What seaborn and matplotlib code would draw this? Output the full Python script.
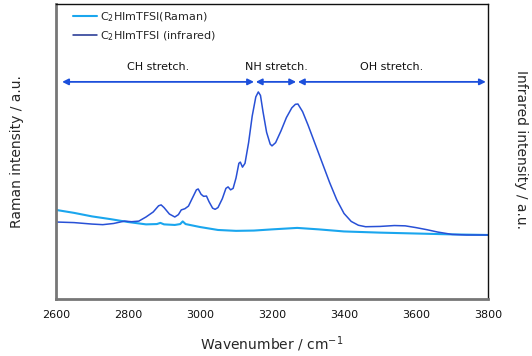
import matplotlib
matplotlib.use("Agg")
import matplotlib.pyplot as plt
import seaborn as sns
import pandas as pd

# Infrared spectrum (wavenumber / cm-1, intensity / a.u.)
ir_wavenumber = [2600, 2650, 2700, 2730, 2760, 2790, 2810, 2830, 2850, 2870, 2885, 2892,
                 2900, 2915, 2930, 2940, 2948, 2958, 2968, 2980, 2990, 2995, 3003, 3010,
                 3018, 3025, 3035, 3042, 3050, 3062, 3072, 3078, 3085, 3092, 3100, 3108,
                 3112, 3118, 3125, 3135, 3145, 3155, 3162, 3168, 3175, 3185, 3195, 3200,
                 3210, 3225, 3240, 3255, 3265, 3272, 3285, 3300, 3320, 3340, 3360, 3380,
                 3400, 3420, 3440, 3460, 3500, 3540, 3570, 3600, 3630, 3660, 3700, 3740,
                 3800]
ir_intensity = [26.1, 25.9, 25.4, 25.2, 25.6, 26.4, 26.2, 26.4, 27.8, 29.5, 31.6, 31.9,
                31.0, 28.8, 27.8, 28.6, 30.2, 30.6, 31.5, 34.5, 37.0, 37.3, 35.5, 34.8,
                34.9, 33.0, 30.8, 30.4, 31.0, 34.0, 37.5, 38.0, 37.0, 37.5, 41.0, 46.0,
                46.4, 44.7, 46.0, 53.0, 62.0, 68.5, 70.2, 69.0, 63.5, 56.5, 52.5, 51.9,
                53.0, 57.0, 61.5, 64.8, 66.0, 66.1, 63.5, 59.0, 52.5, 46.0, 39.5, 33.6,
                29.0, 26.3, 25.0, 24.5, 24.6, 24.9, 24.8, 24.2, 23.5, 22.7, 21.9, 21.7,
                21.7]

# Raman spectrum
raman_wavenumber = [2600, 2650, 2700, 2750, 2800, 2850, 2880, 2890, 2900, 2930, 2945, 2952,
                    2960, 3000, 3050, 3100, 3150, 3200, 3270, 3330, 3400, 3500, 3600, 3700,
                    3800]
raman_intensity = [30.2, 29.2, 28.0, 27.1, 26.1, 25.3, 25.4, 25.8, 25.3, 25.1, 25.4, 26.3,
                   25.4, 24.4, 23.4, 23.1, 23.2, 23.6, 24.1, 23.6, 22.9, 22.5, 22.2, 21.9,
                   21.7]

# Band assignments: (label, start, end)
band_labels = ["CH stretch.", "NH stretch.", "OH stretch."]
band_start = [2617, 3155, 3272]
band_end = [3150, 3267, 3794]

series_names = ["C$_2$HImTFSI(Raman)", "C$_2$HImTFSI (infrared)"]

sns.set_style("white")
plt.rcParams["font.family"] = ["DejaVu Sans"]

fig = plt.figure(figsize=(5.32, 3.56), dpi=100)
ax = fig.add_axes([56 / 532, 1 - 299 / 356, (488 - 56) / 532, (299 - 4) / 356])

raman_df = pd.DataFrame({"wn": raman_wavenumber, "I": raman_intensity})
ir_df = pd.DataFrame({"wn": ir_wavenumber, "I": ir_intensity})

sns.lineplot(data=raman_df, x="wn", y="I", ax=ax, color="#1aa6ee", lw=1.5,
             label=series_names[0])
sns.lineplot(data=ir_df, x="wn", y="I", ax=ax, color="#2850d6", lw=1.1,
             label=series_names[1])

arrow_y = 73.6
for name, a, b in zip(band_labels, band_start, band_end):
    ax.annotate("", xy=(b, arrow_y), xytext=(a, arrow_y),
                arrowprops=dict(arrowstyle="<|-|>", color="#1c4fdb", lw=1.3,
                                mutation_scale=9, shrinkA=0, shrinkB=0))
    ax.text((a + b) / 2, arrow_y + 3.2, name, ha="center", va="bottom",
            fontsize=8, color="#111111")

ax.set_xlim(2600, 3800)
ax.set_ylim(0, 100)
ax.set_xticks([2600, 2800, 3000, 3200, 3400, 3600, 3800])
ax.set_yticks([])
ax.tick_params(axis="x", direction="in", length=6, width=1.5, color="#6e6e6e",
               labelsize=8, pad=8, labelcolor="#111111")

for side in ["left", "bottom"]:
    ax.spines[side].set_color("#777777")
    ax.spines[side].set_linewidth(2)
for side in ["top", "right"]:
    ax.spines[side].set_color("#111111")
    ax.spines[side].set_linewidth(1)

ax.set_xlabel("Wavenumber / cm$^{-1}$", fontsize=10, labelpad=10)
ax.set_ylabel("Raman intensity / a.u.", fontsize=10, labelpad=23)
fig.text(521 / 532, 0.58, "Infrared intensity / a.u.", rotation=-90,
         ha="center", va="center", fontsize=10)

leg = ax.legend(loc="upper left", bbox_to_anchor=(0.03, 0.993), frameon=False,
                fontsize=8, handlelength=2.1, handletextpad=0.3, labelspacing=0.45,
                borderaxespad=0)
leg.get_lines()[1].set_color("#1b2f8f")

fig.savefig("out.png", dpi=100)
